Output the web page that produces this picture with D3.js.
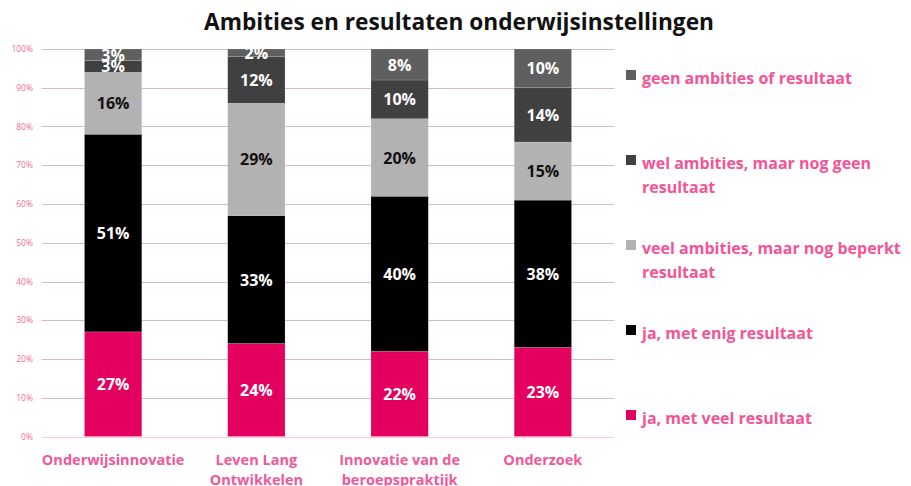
<!DOCTYPE html>
<html>
<head>
<meta charset="utf-8">
<script src="https://cdn.jsdelivr.net/npm/d3@7"></script>
<style>
  body { margin: 0; background: #fff; }
  svg { display: block; font-family: "Open Sans", Lato, sans-serif; }
</style>
</head>
<body>
<div id="chart"></div>
<script>
// categories (x axis), two-line labels
const categories = ['Onderwijsinnovatie', 'Leven Lang Ontwikkelen', 'Innovatie van de beroepspraktijk', 'Onderzoek'];
const categoryLines = [['Onderwijsinnovatie'], ['Leven Lang', 'Ontwikkelen'], ['Innovatie van de', 'beroepspraktijk'], ['Onderzoek']];

// series, bottom to top
const seriesNames = [
  'ja, met veel resultaat',
  'ja, met enig resultaat',
  'veel ambities, maar nog beperkt resultaat',
  'wel ambities, maar nog geen resultaat',
  'geen ambities of resultaat'
];
const veelResultaat = [27, 24, 22, 23];
const enigResultaat = [51, 33, 40, 38];
const beperktResultaat = [16, 29, 20, 15];
const geenResultaat = [3, 12, 10, 14];
const geenAmbities = [3, 2, 8, 10];

const yTicks = [0, 10, 20, 30, 40, 50, 60, 70, 80, 90, 100];

const colors = ['#e4005e', '#000000', '#b2b2b2', '#404040', '#5f5f5f'];
const labelColors = ['#fff', '#fff', '#111', '#fff', '#fff'];
const legendLines = [
  ['ja, met veel resultaat'],
  ['ja, met enig resultaat'],
  ['veel ambities, maar nog beperkt', 'resultaat'],
  ['wel ambities, maar nog geen', 'resultaat'],
  ['geen ambities of resultaat']
];

const width = 911, height = 486;
const margin = { top: 49, right: 297, bottom: 49, left: 41.5 };

const svg = d3.select('#chart').append('svg')
  .attr('width', width)
  .attr('height', height);

const rows = categories.map((c, i) => ({
  cat: c,
  s0: veelResultaat[i], s1: enigResultaat[i], s2: beperktResultaat[i], s3: geenResultaat[i], s4: geenAmbities[i]
}));
const keys = ['s0', 's1', 's2', 's3', 's4'];
const stacked = d3.stack().keys(keys)(rows);

const x = d3.scaleBand()
  .domain(categories)
  .range([margin.left, width - margin.right + 0.5])
  .paddingInner(0.6)
  .paddingOuter(0.3);

const y = d3.scaleLinear()
  .domain([0, 100])
  .range([height - margin.bottom - 0.5, margin.top]);

// title
svg.append('text')
  .attr('x', 459)
  .attr('y', 30)
  .attr('text-anchor', 'middle')
  .attr('font-size', 22.7)
  .attr('font-weight', 700)
  .attr('fill', '#111')
  .text('Ambities en resultaten onderwijsinstellingen');

// grid lines
svg.append('g')
  .selectAll('line')
  .data(yTicks)
  .enter()
  .append('line')
  .attr('x1', margin.left)
  .attr('x2', width - margin.right + 0.5)
  .attr('y1', d => Math.round(y(d)) + 0.5)
  .attr('y2', d => Math.round(y(d)) + 0.5)
  .attr('stroke', d => d === 0 ? '#f7c9da' : '#d4bcc6')
  .attr('stroke-width', 1.2);

// y axis labels
svg.append('g')
  .selectAll('text')
  .data(yTicks)
  .enter()
  .append('text')
  .attr('x', 33)
  .attr('y', d => y(d) + 3)
  .attr('text-anchor', 'end')
  .attr('font-size', 8.5)
  .attr('fill', '#f06a9c')
  .text(d => d + '%');

// bars
const layers = svg.append('g')
  .selectAll('g')
  .data(stacked)
  .enter()
  .append('g')
  .attr('fill', (d, i) => colors[i]);

layers.selectAll('rect')
  .data(d => d)
  .enter()
  .append('rect')
  .attr('x', d => x(d.data.cat))
  .attr('y', d => y(d[1]))
  .attr('width', x.bandwidth())
  .attr('height', d => y(d[0]) - y(d[1]))
  .attr('stroke', 'rgba(255,255,255,0.25)')
  .attr('stroke-width', 0.6);

// value labels
stacked.forEach((layer, si) => {
  svg.append('g')
    .selectAll('text')
    .data(layer)
    .enter()
    .append('text')
    .attr('x', d => x(d.data.cat) + x.bandwidth() / 2)
    .attr('y', d => y((d[0] + d[1]) / 2) + 6)
    .attr('text-anchor', 'middle')
    .attr('font-size', 16)
    .attr('font-weight', 700)
    .attr('fill', labelColors[si])
    .text(d => (d[1] - d[0]) + '%');
});

// x labels
const xl = svg.append('g')
  .selectAll('text')
  .data(categories)
  .enter()
  .append('text')
  .attr('x', d => x(d) + x.bandwidth() / 2)
  .attr('y', 465)
  .attr('text-anchor', 'middle')
  .attr('font-size', 14.5)
  .attr('font-weight', 700)
  .attr('fill', '#f0589a');

xl.selectAll('tspan')
  .data((d, i) => categoryLines[i])
  .enter()
  .append('tspan')
  .attr('x', function() { return d3.select(this.parentNode).attr('x'); })
  .attr('dy', (d, i) => i === 0 ? 0 : 20)
  .text(d => d);

// legend, top to bottom
const legendY = [79, 164, 249, 334, 419];
const legendOrder = [4, 3, 2, 1, 0];
const legend = svg.append('g')
  .selectAll('g')
  .data(legendOrder)
  .enter()
  .append('g')
  .attr('transform', (d, i) => `translate(626,${legendY[i]})`);

legend.append('rect')
  .attr('x', 0)
  .attr('y', -9)
  .attr('width', 10)
  .attr('height', 10)
  .attr('fill', d => colors[d]);

const lt = legend.append('text')
  .attr('x', 16)
  .attr('y', 5)
  .attr('font-size', 16)
  .attr('font-weight', 700)
  .attr('fill', '#f45495');

lt.selectAll('tspan')
  .data(d => legendLines[d])
  .enter()
  .append('tspan')
  .attr('x', 16)
  .attr('dy', (d, i) => i === 0 ? 0 : 24)
  .text(d => d);
</script>
</body>
</html>
